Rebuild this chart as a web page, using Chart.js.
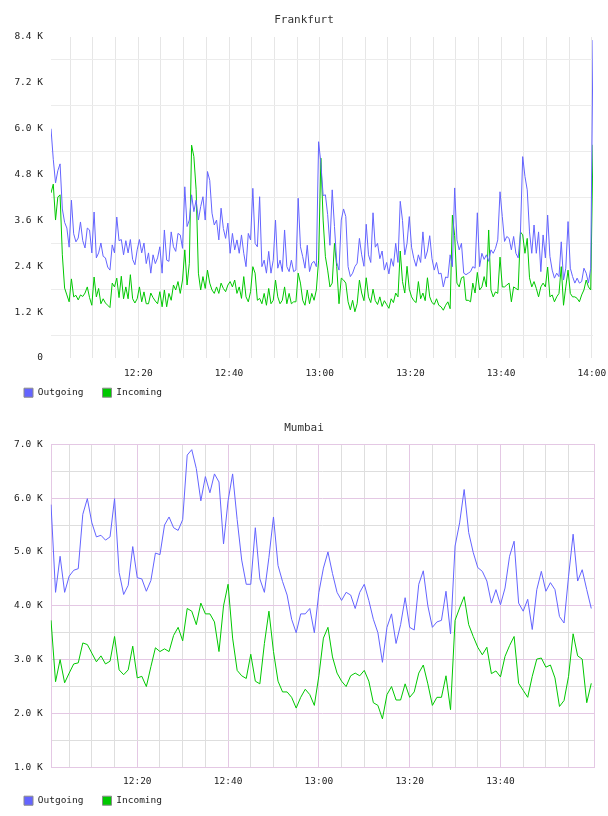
<!DOCTYPE html>
<html>
<head>
<meta charset="utf-8">
<script src="https://cdn.jsdelivr.net/npm/chart.js@4.4.1/dist/chart.umd.min.js"></script>
<style>
  html, body { margin: 0; padding: 0; background: #fff; }
  canvas { display: block; }
</style>
</head>
<body>
<canvas id="chartFrankfurt" width="608" height="408"></canvas>
<canvas id="chartMumbai" width="608" height="408"></canvas>
<script>
// minutes after 12:00, Frankfurt samples every 30 s, Mumbai every minute
const frankfurtStart = 0.75
const frankfurtStep = 0.5
const mumbaiStart = 1
const mumbaiStep = 1

const frankfurtOutgoing = [
  6000, 5200, 4580, 4900, 5080, 3900, 3550, 3400, 2900, 4130,
  3250, 3040, 3140, 3560, 3070, 2880, 3400, 3350, 2750, 3820,
  2620, 2750, 3010, 2660, 2620, 2380, 2300, 2960, 2750, 3690,
  3070, 3100, 2700, 3070, 2750, 3100, 2580, 2440, 2830, 3100,
  2750, 3010, 2470, 2750, 2220, 2700, 2470, 2620, 2910, 2220,
  3350, 2560, 2530, 3300, 2910, 2790, 3260, 3220, 2870, 4480,
  3440, 3610, 4270, 3830, 4130, 3610, 3960, 4220, 3610, 4880,
  4650, 3790, 3480, 3610, 3090, 3920, 3390, 3130, 3530, 2740,
  3260, 2830, 3090, 2740, 3220, 2740, 2390, 3260, 3090, 4440,
  3000, 2910, 4220, 2390, 2560, 2220, 2790, 2220, 2560, 3610,
  2350, 2560, 2260, 3350, 2390, 2260, 2560, 2260, 2300, 4180,
  2910, 2650, 2350, 2950, 2260, 2480, 2530, 2390, 5660, 5100,
  4250, 4270, 3750, 2950, 4400, 3440, 2500, 2300, 3610, 3900,
  3700, 2390, 2130, 2220, 2390, 2480, 3130, 2700, 2400, 3500,
  2700, 2500, 3800, 2900, 3000, 2600, 2800, 2300, 2500, 2200,
  2600, 2400, 3000, 2500, 4100, 3600, 2700, 3000, 3700, 2900,
  2600, 2400, 2700, 2500, 3300, 2600, 2800, 3200, 2600, 2300,
  2500, 2200, 2220, 1860, 2120, 2100, 2700, 2390, 4450, 3090,
  2830, 3000, 2220, 2180, 2220, 2260, 2390, 2350, 3800, 2390,
  2740, 2580, 2700, 2530, 2830, 2740, 2870, 3090, 4350, 3700,
  3050, 3180, 3130, 2830, 3180, 2740, 2620, 3260, 5270, 4750,
  4400, 3300, 2740, 3480, 2740, 3300, 2260, 3220, 2620, 3740,
  2660, 2300, 2090, 2220, 2130, 3040, 2040, 2350, 3570, 2350,
  2130, 1960, 2090, 1960, 2000, 2350, 2220, 1960, 2350, 8320
]
const frankfurtIncoming = [
  4320, 4550, 3610, 4210, 4270, 2700, 1830, 1650, 1470, 2070,
  1600, 1640, 1520, 1650, 1610, 1700, 1860, 1580, 1380, 2120,
  1600, 1820, 1420, 1550, 1440, 1380, 1320, 1960, 1860, 2090,
  1580, 2140, 1550, 1860, 1550, 2180, 1550, 1440, 1550, 1860,
  1470, 1730, 1420, 1420, 1700, 1580, 1490, 1420, 1735, 1340,
  1780, 1340, 1690, 1510, 1910, 1780, 2000, 1690, 2040, 2830,
  1910, 2480, 5570, 5270, 4400, 2220, 1780, 2130, 1820, 2300,
  1960, 1780, 1690, 1860, 1690, 1960, 1820, 1735, 1910, 2000,
  1860, 2040, 1690, 1860, 1560, 2130, 1600, 1470, 1735, 2390,
  2220, 1510, 1560, 1420, 1690, 1380, 1820, 1420, 1510, 2040,
  1600, 1420, 1510, 1860, 1420, 1690, 1420, 1470, 1470, 2220,
  1960, 1510, 1380, 1780, 1420, 1690, 1510, 1780, 2560, 5230,
  3610, 2650, 2300, 1860, 1960, 3000, 2390, 1420, 2090, 2040,
  1960, 1470, 1260, 1510, 1210, 1420, 2040, 1700, 1500, 2100,
  1600, 1450, 1800, 1500, 1400, 1600, 1350, 1500, 1400, 1300,
  1550, 1450, 1700, 1600, 2800, 2000, 1700, 2400, 1800, 1600,
  1500, 1450, 2000, 1550, 1700, 1500, 2100, 1600, 1450, 1400,
  1550, 1380, 1340, 1250, 1380, 1470, 1290, 3740, 3200, 1960,
  1860, 2100, 2130, 1510, 1510, 1470, 1960, 1700, 2240, 1780,
  1860, 2130, 1860, 3350, 1780, 1600, 1730, 1690, 2640, 1860,
  1860, 1910, 1960, 1470, 1860, 1820, 1780, 3300, 3220, 2740,
  3130, 2100, 1860, 2000, 1820, 1600, 1860, 1960, 1860, 2380,
  1600, 1650, 1470, 1600, 1690, 2390, 1380, 1860, 2300, 1690,
  1600, 1600, 1560, 1470, 1650, 1780, 2040, 1860, 1780, 5580
]

const mumbaiOutgoing = [
  5880, 4250, 4920, 4250, 4550, 4660, 4690, 5700, 5990, 5540,
  5280, 5310, 5220, 5280, 5990, 4620, 4210, 4380, 5100, 4520,
  4500, 4270, 4470, 4980, 4950, 5500, 5650, 5450, 5400, 5600,
  6800, 6900, 6550, 5950, 6400, 6100, 6450, 6300, 5150, 5950,
  6450, 5600, 4850, 4400, 4400, 5450, 4500, 4250, 4900, 5650,
  4750, 4450, 4200, 3750, 3500, 3850, 3850, 3950, 3500, 4250,
  4700, 5000, 4600, 4250, 4100, 4250, 4200, 3950, 4250, 4400,
  4100, 3750, 3500, 2950, 3600, 3850, 3300, 3650, 4150, 3600,
  3550, 4400, 4650, 4000, 3600, 3700, 3730, 4270, 3480, 5110,
  5540, 6160, 5360, 4990, 4710, 4640, 4460, 4050, 4300, 4020,
  4330, 4920, 5200, 4050, 3900, 4120, 3560, 4300, 4640, 4270,
  4430, 4300, 3800, 3680, 4550, 5330, 4460, 4670, 4300, 3950
]
const mumbaiIncoming = [
  3730, 2590, 3000, 2570, 2750, 2920, 2940, 3310, 3280, 3120,
  2960, 3070, 2920, 2970, 3430, 2810, 2720, 2810, 3250, 2660,
  2690, 2500, 2870, 3220, 3150, 3200, 3150, 3450, 3600, 3350,
  3950, 3900, 3650, 4050, 3850, 3850, 3700, 3150, 4000, 4400,
  3400, 2800, 2700, 2650, 3100, 2600, 2550, 3300, 3900, 3150,
  2600, 2400, 2400, 2300, 2100, 2300, 2450, 2350, 2150, 2700,
  3400, 3600, 3050, 2750, 2600, 2500, 2700, 2750, 2700, 2800,
  2600, 2200, 2150, 1900, 2350, 2500, 2250, 2250, 2550, 2300,
  2400, 2750, 2900, 2550, 2150, 2300, 2300, 2700, 2070, 3730,
  3960, 4170, 3650, 3430, 3230, 3090, 3230, 2740, 2790, 2680,
  3060, 3260, 3430, 2560, 2430, 2300, 2690, 3010, 3030, 2860,
  2900, 2660, 2130, 2240, 2690, 3480, 3070, 3010, 2200, 2560
]

const BLUE = '#6464ff'
const GREEN = '#00c800'
const FONT = 'DejaVu Sans Mono'
const TEXT = '#222'

const frankfurtTimes = frankfurtOutgoing.map((_, i) => frankfurtStart + i * frankfurtStep)
const mumbaiTimes = mumbaiOutgoing.map((_, i) => mumbaiStart + i * mumbaiStep)

const isMultiple = (v, n) => Math.abs(v / n - Math.round(v / n)) < 1e-6

const fmtTime = v => {
    const m = Math.round(v)
    return `${12 + Math.floor(m / 60)}:${String(m % 60).padStart(2, '0')}`
}

const fmtK = v => v === 0 ? '0' : `${(v / 1000).toFixed(1)} K`

const toPoints = (times, values) => times.map((t, i) => ({ x: t, y: values[i] }))

// one tick every 5 minutes inside the axis range
const fiveMinuteTicks = s => {
    const ticks = []
    for (let v = Math.ceil(s.min / 5) * 5; v <= s.max + 1e-9; v += 5) ticks.push({ value: v })
    s.ticks = ticks
}

// plot frame, only used by Mumbai
const framePlugin = {
    id: 'frame',
    beforeDatasetsDraw(chart, args, opts) {
        if (!opts.color) return
        const { ctx, chartArea: a } = chart
        ctx.save()
        ctx.strokeStyle = opts.color
        ctx.lineWidth = 1
        ctx.strokeRect(Math.round(a.left) + 0.5, Math.round(a.top) + 0.5,
            Math.round(a.right) - Math.round(a.left), Math.round(a.bottom) - Math.round(a.top))
        ctx.restore()
    }
}

const makeChart = (id, c) => new Chart(document.getElementById(id), {
    type: 'line',
    data: {
        datasets: [
            {
                label: 'Outgoing',
                data: toPoints(c.times, c.outgoing),
                borderColor: BLUE,
                backgroundColor: BLUE,
                borderWidth: 1,
                pointRadius: 0,
                yAxisID: 'y'
            },
            {
                label: 'Incoming',
                data: toPoints(c.times, c.incoming),
                borderColor: GREEN,
                backgroundColor: GREEN,
                borderWidth: 1,
                pointRadius: 0,
                yAxisID: 'y'
            }
        ]
    },
    plugins: [framePlugin],
    options: {
        responsive: false,
        animation: false,
        layout: { padding: { left: 5, right: 5, top: 0, bottom: 0.55 } },
        plugins: {
            frame: { color: c.frameColor },
            tooltip: { enabled: false },
            title: {
                display: true,
                text: c.title,
                color: '#333',
                font: { family: FONT, size: 11, weight: 'normal' },
                padding: c.titlePad
            },
            legend: {
                position: 'bottom',
                align: 'start',
                // empty title with negative padding pulls the row up under the time labels
                title: { display: true, text: '', font: { size: 1 }, padding: { top: -7.1, bottom: -7.15 } },
                labels: {
                    boxWidth: 9,
                    boxHeight: 9,
                    padding: 19,
                    color: TEXT,
                    font: { family: FONT, size: 9.5 },
                    generateLabels: chart => chart.data.datasets.map((ds, i) => ({
                        text: ds.label,
                        fillStyle: ds.borderColor,
                        strokeStyle: '#8a8a8a',
                        fontColor: TEXT,
                        lineWidth: 1,
                        hidden: false,
                        datasetIndex: i
                    }))
                }
            }
        },
        scales: {
            x: {
                type: 'linear',
                min: c.xMin,
                max: c.xMax,
                border: { display: false },
                grid: { drawTicks: false, color: ctx => c.xGrid(ctx.tick.value) },
                ticks: {
                    stepSize: 5,
                    autoSkip: false,
                    maxRotation: 0,
                    padding: c.xTickPad,
                    color: TEXT,
                    font: { family: FONT, size: 9.5 },
                    callback: v => isMultiple(v, 20) && v <= c.lastLabel ? fmtTime(v) : ''
                },
                afterBuildTicks: fiveMinuteTicks,
                afterFit: s => { s.height = c.xAxisHeight; s.paddingLeft = 0; s.paddingRight = 0 }
            },
            y: {
                type: 'linear',
                min: c.yMin,
                max: c.yMax,
                border: { display: false },
                grid: { drawTicks: false, color: ctx => c.yGrid(ctx.tick.value) },
                ticks: {
                    stepSize: c.yStep,
                    autoSkip: false,
                    padding: 8,
                    color: TEXT,
                    font: { family: FONT, size: 9.5 },
                    callback: v => isMultiple(v, c.yLabelStep) ? fmtK(v) : ''
                },
                afterFit: s => { s.width = c.yAxisWidth; s.paddingTop = 0; s.paddingBottom = 0 }
            },
            gap: {
                type: 'linear',
                axis: 'y',
                position: 'right',
                border: { display: false },
                grid: { display: false },
                ticks: { display: false },
                afterFit: s => { s.width = c.rightGap }
            }
        }
    }
})

makeChart('chartFrankfurt', {
    title: 'Frankfurt',
    times: frankfurtTimes,
    outgoing: frankfurtOutgoing,
    incoming: frankfurtIncoming,
    titlePad: { top: 13.4, bottom: 10.4 },
    xMin: 0.75,
    xMax: 120.25,
    lastLabel: 120,
    xTickPad: 9.6,
    xAxisHeight: 24,
    xGrid: () => '#e6e6e6',
    yMin: 0,
    yMax: 8400,
    yStep: 600,
    yLabelStep: 1200,
    yGrid: v => isMultiple(v, 1200) ? 'rgba(0,0,0,0)' : '#ececec',
    yAxisWidth: 46,
    rightGap: 10,
    frameColor: null
})

makeChart('chartMumbai', {
    title: 'Mumbai',
    times: mumbaiTimes,
    outgoing: mumbaiOutgoing,
    incoming: mumbaiIncoming,
    titlePad: { top: 13.7, bottom: 9.4 },
    xMin: 0.93,
    xMax: 120.6,
    lastLabel: 110,
    xTickPad: 8.7,
    xAxisHeight: 22.7,
    xGrid: v => v >= 120 ? 'rgba(0,0,0,0)' : isMultiple(v, 20) ? '#e4c8e4' : '#dedede',
    yMin: 1000,
    yMax: 7000,
    yStep: 500,
    yLabelStep: 1000,
    yGrid: v => isMultiple(v, 1000) ? '#e4c8e4' : '#dedede',
    yAxisWidth: 45.7,
    rightGap: 9,
    frameColor: '#e4c8e4'
})
</script>
</body>
</html>
